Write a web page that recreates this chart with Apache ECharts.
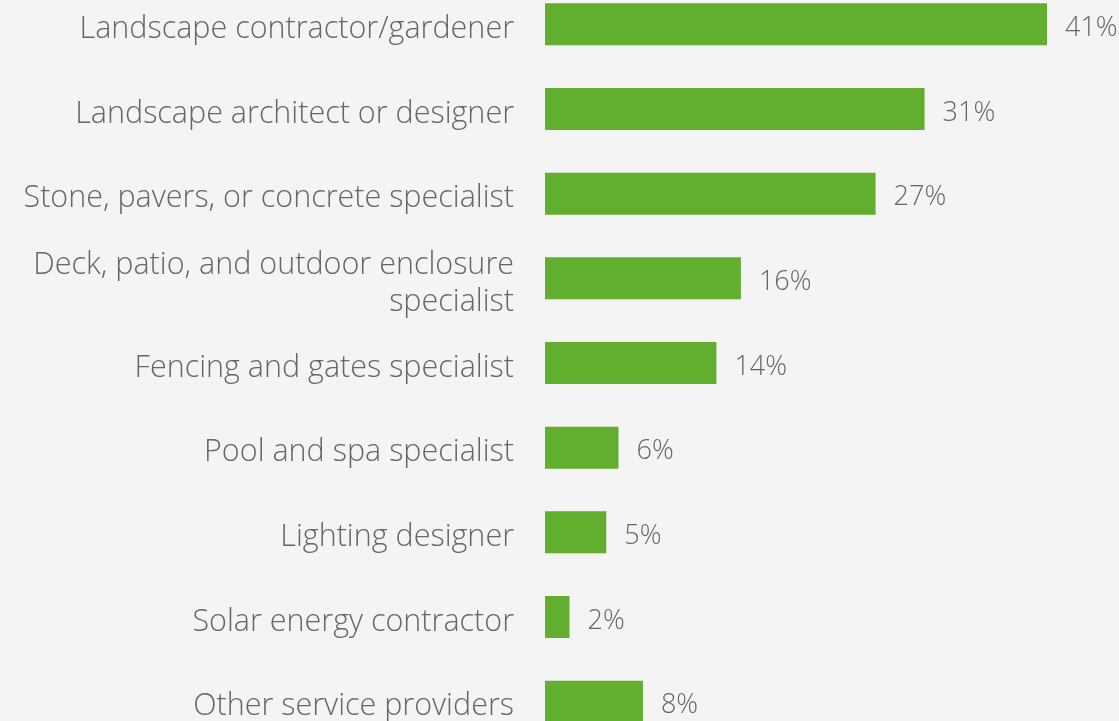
<!DOCTYPE html>
<html>
<head>
<meta charset="utf-8">
<script src="https://cdn.jsdelivr.net/npm/echarts@6/dist/echarts.min.js"></script>
<style>
  html, body { margin: 0; padding: 0; background: #f4f4f4; }
  #chart { width: 1119px; height: 721px; }
</style>
</head>
<body>
<div id="chart"></div>
<script>
// Service providers hired for outdoor projects (share of respondents, %)
const categories = [
  'Landscape contractor/gardener',
  'Landscape architect or designer',
  'Stone, pavers, or concrete specialist',
  'Deck, patio, and outdoor enclosure\nspecialist',
  'Fencing and gates specialist',
  'Pool and spa specialist',
  'Lighting designer',
  'Solar energy contractor',
  'Other service providers'
];
const shares = [41, 31, 27, 16, 14, 6, 5, 2, 8];

const font = '"Open Sans", Lato, sans-serif';
const chart = echarts.init(document.getElementById('chart'));
chart.setOption({
  backgroundColor: '#f4f4f4',
  animation: false,
  grid: {
    left: 545, top: -18, width: 502, height: 762,
    containLabel: false, outerBoundsMode: 'none'
  },
  xAxis: {
    type: 'value', min: 0, max: 41,
    show: false
  },
  yAxis: {
    type: 'category', data: categories, inverse: true,
    axisLine: { show: false }, axisTick: { show: false },
    axisLabel: {
      margin: 31, align: 'right',
      // each line sits a little below the bar centre
      formatter: (v) => v.split('\n').map((s) => '{t|' + s + '}').join('\n'),
      rich: {
        t: {
          color: '#666666', fontSize: 30.5, fontWeight: 300, fontFamily: font,
          lineHeight: 37, padding: [10, 0, 0, 0], align: 'right'
        }
      }
    }
  },
  series: [{
    type: 'bar', data: shares, barWidth: 42,
    itemStyle: { color: '#62ae2e' },
    label: {
      show: true, position: 'right', distance: 18, offset: [0, 4],
      formatter: '{c}%', color: '#666666', fontSize: 27, fontWeight: 300,
      fontFamily: font
    }
  }]
});
</script>
</body>
</html>
